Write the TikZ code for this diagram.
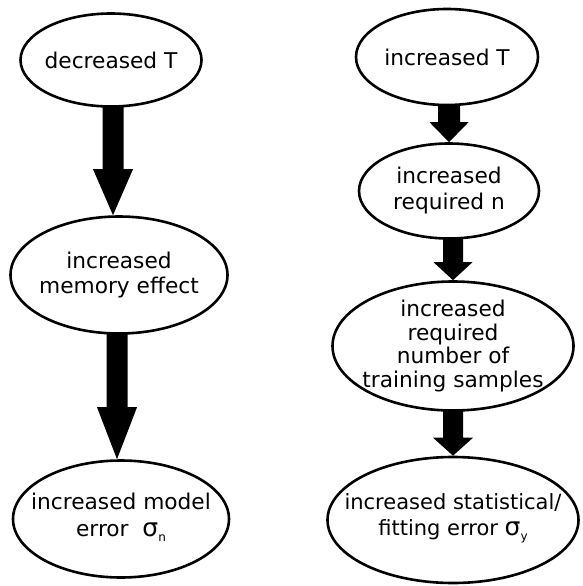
\documentclass[tikz,border=0pt]{standalone}
\usepackage{fontspec}
\setmainfont{DejaVu Sans}
\usetikzlibrary{shapes.geometric,calc}
\tikzset{
  bubble/.style={ellipse, draw, line width=2.6pt, inner sep=0pt},
  btext/.style={align=center, inner sep=0pt, font=\fontsize{21.7}{25}\selectfont},
}
\newcommand{\sig}[1]{{\fontsize{25}{25}\selectfont σ}\raisebox{-0.2em}{\fontsize{12}{12}\selectfont #1}}
% #1 from, #2 to, #3 shaft half width, #4 head half width, #5 head length, #6 x offset
\newcommand{\blockarrow}[6]{%
  \fill let \p1=($(#2.north)+(#6,0)$), \p2=(#1.south) in
    (\x1-#3pt,\y2+1pt) -- (\x1-#3pt,\y1+#5pt) -- (\x1-#4pt,\y1+#5pt) --
    (\p1) -- (\x1+#4pt,\y1+#5pt) -- (\x1+#3pt,\y1+#5pt) --
    (\x1+#3pt,\y2+1pt) -- cycle;}
\begin{document}
\begin{tikzpicture}[x=1pt,y=-1pt]
\useasboundingbox (0,0) rectangle (582,586);
% left column
\node[bubble, minimum width=181pt, minimum height=93pt] (e1) at (111,60) {};
\node[btext] (e1t) at (e1.center) {decreased T};
\node[bubble, minimum width=217pt, minimum height=117pt] (e2) at (119,275) {};
\node[btext] (e2t) at (e2.center) {increased\\memory effect};
\node[bubble, minimum width=216pt, minimum height=117pt] (e3) at (121,519) {};
\node[btext, font=\fontsize{21.7}{27.5}\selectfont] (e3t) at ([yshift=2pt]e3.center) {increased model\\error~~\sig{n}};
% right column
\node[bubble, minimum width=182pt, minimum height=96pt] (r1) at (447,57) {};
\node[btext] (r1t) at (r1.center) {increased T};
\node[bubble, minimum width=180pt, minimum height=95pt] (r2) at (449,191) {};
\node[btext, font=\fontsize{21.7}{26}\selectfont] (r2t) at (r2.center) {increased\\required n};
\node[bubble, minimum width=241pt, minimum height=129pt] (r3) at (453,346) {};
\node[btext, font=\fontsize{21.7}{23.5}\selectfont] (r3t) at (r3.center) {increased\\required\\number of\\training samples};
\node[bubble, minimum width=251pt, minimum height=126pt] (r4) at (453,520) {};
\node[btext, font=\fontsize{21}{26.5}\selectfont] (r4t) at ([yshift=2pt]r4.center) {increased statistical/\\fitting error \sig{y}};
% arrows
\blockarrow{e1}{e2}{10.5}{20}{46}{-6}
\blockarrow{e2}{e3}{10.5}{20}{52}{-4}
\blockarrow{r1}{r2}{11}{19.5}{20}{0}
\blockarrow{r2}{r3}{10}{19.5}{18}{0}
\blockarrow{r3}{r4}{10}{20}{18}{0}
\end{tikzpicture}
\end{document}
